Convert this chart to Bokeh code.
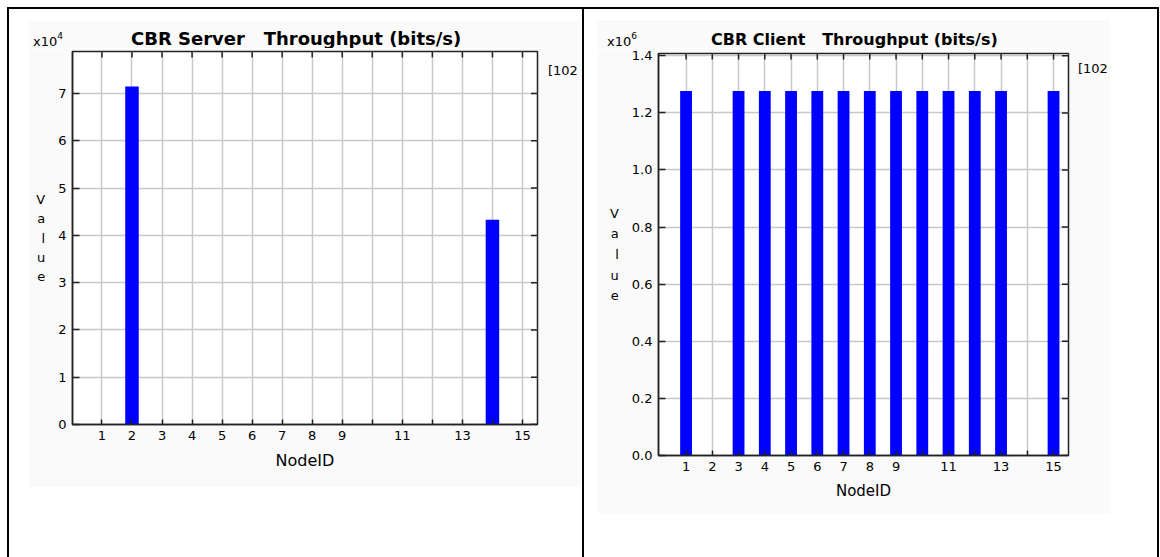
import math

from bokeh.plotting import figure
from bokeh.layouts import row, column
from bokeh.models import FixedTicker, Range1d, Div, Spacer, ColumnDataSource
from bokeh.embed import file_html
from bokeh.resources import INLINE

# ---- data -------------------------------------------------------------
node_ids = [1, 2, 3, 4, 5, 6, 7, 8, 9, 10, 11, 12, 13, 14, 15]
node_tick_labels = ["1", "2", "3", "4", "5", "6", "7", "8", "9", "", "11", "", "13", "", "15"]

server_bps = [0, 71500, 0, 0, 0, 0, 0, 0, 0, 0, 0, 0, 0, 43300, 0]
server_ticks = [0, 10000, 20000, 30000, 40000, 50000, 60000, 70000]
server_tick_labels = ["0", "1", "2", "3", "4", "5", "6", "7"]

client_bps = [1277000, 0, 1277000, 1277000, 1277000, 1277000, 1277000, 1277000,
              1277000, 1277000, 1277000, 1277000, 1277000, 0, 1277000]
client_ticks = [0, 200000, 400000, 600000, 800000, 1000000, 1200000, 1400000]
client_tick_labels = ["0.0", "0.2", "0.4", "0.6", "0.8", "1.0", "1.2", "1.4"]

FONT = "DejaVu Sans"
BAR_BLUE = "#0000ff"
GRID = "#c8c8c8"
AXIS = "#222222"
PANEL = "#fafafa"


def chart(width, height, frame, x_range, y_max, values, yticks, ylabels,
          tick_px, label_px, value_line_height):
    fl, fr, ft, fb = frame  # frame edges in canvas pixels
    p = figure(width=width, height=height, output_backend="svg", toolbar_location=None,
               x_range=Range1d(*x_range), y_range=Range1d(0, y_max),
               min_border_left=fl, min_border_right=width - fr,
               min_border_top=ft, min_border_bottom=height - fb,
               border_fill_color=PANEL, background_fill_color="white",
               outline_line_color=AXIS, outline_line_width=1.5)

    xt = FixedTicker(ticks=node_ids)
    yt = FixedTicker(ticks=yticks)
    xa = p.below[0]
    ya = p.left[0]
    xa.ticker = xt
    ya.ticker = yt
    xa.major_label_overrides = {float(n): lab for n, lab in zip(node_ids, node_tick_labels)}
    ya.major_label_overrides = {float(t): lab for t, lab in zip(yticks, ylabels)}

    for ax, tick_len in ((xa, 5), (ya, 7)):
        ax.axis_line_color = AXIS
        ax.axis_line_width = 1.5
        ax.major_tick_line_color = AXIS
        ax.major_tick_line_width = 1.5
        ax.major_tick_in = tick_len
        ax.major_tick_out = 0
        ax.minor_tick_line_color = None
        ax.major_label_text_font = FONT
        ax.major_label_text_font_size = f"{tick_px}px"
        ax.major_label_text_color = "black"
        ax.major_label_standoff = 6
        ax.axis_label_text_font = FONT
        ax.axis_label_text_font_style = "normal"
        ax.axis_label_text_color = "black"

    xa.axis_label = "NodeID"
    xa.axis_label_text_font_size = f"{label_px}px"
    xa.axis_label_standoff = 8

    ya.axis_label = "V\na\nl\nu\ne"
    ya.axis_label_orientation = "horizontal"
    ya.axis_label_text_font_size = f"{tick_px}px"
    ya.axis_label_text_line_height = value_line_height
    ya.axis_label_standoff = 10

    p.xgrid.ticker = xt
    p.ygrid.ticker = yt
    p.grid.grid_line_color = GRID
    p.grid.grid_line_width = 1.5

    src = ColumnDataSource(dict(node=node_ids, bps=values))
    p.vbar(x="node", top="bps", width=0.45, source=src,
           fill_color=BAR_BLUE, line_color=None)

    # inward tick marks along the top and right edges of the frame
    # (dash markers centred on the edge; the outer half is clipped away)
    p.scatter(x=node_ids, y=[y_max] * len(node_ids), marker="dash", angle=math.pi / 2,
              size=12, line_color=AXIS, line_width=1.5)
    p.scatter(x=[x_range[1]] * len(yticks), y=yticks, marker="dash",
              size=13, line_color=AXIS, line_width=1.5)
    return p


def html_text(html, width, height, top, left=0, size=13, bold=False):
    weight = "bold" if bold else "normal"
    inner = (f'<div style="position:relative; top:{top}px; left:{left}px; '
             f'font-family:\'{FONT}\'; font-size:{size}px; font-weight:{weight}; '
             f'line-height:{round(size * 1.1)}px; color:black; white-space:pre;">'
             f'{html}</div>')
    return Div(text=inner, width=width, height=height, margin=0,
               styles={"background-color": PANEL, "overflow": "hidden"})


def exponent(power):
    return f'x10<span style="position:relative; top:-7px; font-size:9px;">{power}</span>'


# ---- left chart: CBR server (panel at page x 28..582, y 21..487) ---------
left = chart(517, 439, (44, 509, 3, 376), (0.02, 15.5), 78900, server_bps,
             server_ticks, server_tick_labels, 13, 16, 1.28)
left_head = row(html_text(exponent(4), 103, 27, 13, left=5),
                html_text("CBR Server   Throughput (bits/s)", 451, 27, 8, size=18, bold=True),
                margin=0)
left_side = html_text("[102", 37, 439, 15, left=3)
left_panel = column(left_head, row(left, left_side, margin=0), margin=0)

# ---- right chart: CBR client (panel at page x 597..1110, y 20..514) ------
right = chart(479, 466, (61, 471, 5, 407), (-0.05, 15.57), 1408000, client_bps,
              client_ticks, client_tick_labels, 13, 15, 1.37)
right_head = row(html_text(exponent(6), 114, 28, 14, left=10),
                 html_text("CBR Client   Throughput (bits/s)", 399, 28, 11, size=16, bold=True),
                 margin=0)
right_side = html_text("[102", 34, 466, 13, left=2)
right_panel = column(right_head, row(right, right_side, margin=0), margin=0)


# ---- page frame -----------------------------------------------------------
def rule(w, h):
    return Div(text="", width=w, height=h, margin=0,
               styles={"background-color": "black"})


left_block = row(Spacer(width=19, height=466),
                 column(Spacer(width=554, height=12), left_panel, margin=0), margin=0)
right_block = row(Spacer(width=13, height=494),
                  column(Spacer(width=513, height=11), right_panel, margin=0),
                  Spacer(width=47, height=10), margin=0)

body = row(Spacer(width=7, height=548), rule(2, 548), left_block, rule(2, 548),
           right_block, rule(2, 548), margin=0)
top = row(Spacer(width=7, height=2), rule(1152, 2), margin=0)
page = column(Spacer(width=1160, height=7), top, body, margin=0)

open("out.html", "w").write(file_html(page, INLINE))
